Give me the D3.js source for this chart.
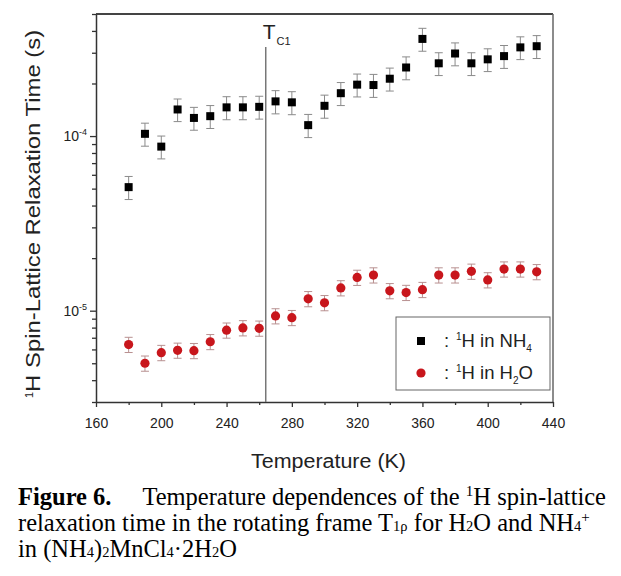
<!DOCTYPE html>
<html><head><meta charset="utf-8">
<script src="https://cdn.jsdelivr.net/npm/d3@7/dist/d3.min.js"></script>
<style>html,body{margin:0;padding:0;background:#fff;}svg{display:block;}</style>
</head><body>
<script>
// ---- data ----
const temps = [180,190,200,210,220,230,240,250,260,270,280,290,300,310,320,330,340,350,360,370,380,390,400,410,420,430];
const nh4 = [5.1e-5,1.03e-4,8.7e-5,1.42e-4,1.27e-4,1.30e-4,1.46e-4,1.46e-4,1.47e-4,1.58e-4,1.56e-4,1.155e-4,1.49e-4,1.76e-4,1.97e-4,1.96e-4,2.13e-4,2.47e-4,3.60e-4,2.61e-4,2.97e-4,2.61e-4,2.75e-4,2.87e-4,3.22e-4,3.27e-4];
const nh4Err = [0.77e-5,1.55e-5,1.3e-5,2.1e-5,1.9e-5,1.95e-5,2.2e-5,2.2e-5,2.2e-5,2.4e-5,2.35e-5,1.75e-5,2.25e-5,2.65e-5,2.95e-5,2.95e-5,3.2e-5,3.7e-5,5.4e-5,3.9e-5,4.45e-5,3.9e-5,4.1e-5,4.3e-5,4.8e-5,4.9e-5];
const h2o = [6.4e-6,5.0e-6,5.75e-6,5.93e-6,5.9e-6,6.64e-6,7.73e-6,7.97e-6,7.93e-6,9.33e-6,9.12e-6,1.17e-5,1.11e-5,1.35e-5,1.55e-5,1.60e-5,1.30e-5,1.27e-5,1.32e-5,1.60e-5,1.60e-5,1.68e-5,1.50e-5,1.73e-5,1.73e-5,1.67e-5];
const h2oErr = [0.64e-6,0.5e-6,0.58e-6,0.59e-6,0.59e-6,0.66e-6,0.77e-6,0.8e-6,0.79e-6,0.93e-6,0.91e-6,1.17e-6,1.11e-6,1.35e-6,1.55e-6,1.6e-6,1.3e-6,1.27e-6,1.32e-6,1.6e-6,1.6e-6,1.68e-6,1.5e-6,1.73e-6,1.73e-6,1.67e-6];
const xTicks = [160,200,240,280,320,360,400,440];
const xMinor = [180,220,260,300,340,380,420];
const yMajor = [1e-5,1e-4];
const yMajorExp = ["-5","-4"];
const tc1 = 264;

const W = 621, H = 576;
const svg = d3.select("body").append("svg").attr("width", W).attr("height", H);
const x = d3.scaleLinear().domain([160,440]).range([96,553]);
const y = d3.scaleLog().domain([3e-6,5e-4]).range([402,14]);
const sans = "'Liberation Sans', Arial, sans-serif";
const serif = "'Liberation Serif', 'Times New Roman', serif";

// minor y ticks
const yMinor = [];
[1e-6,1e-5,1e-4].forEach(d => { for (let k=2;k<=9;k++){ const v=k*d; if (v>=3e-6 && v<=5e-4) yMinor.push(v);} });

// frame
const g = svg.append("g");
g.append("line").attr("x1",96).attr("x2",553).attr("y1",14).attr("y2",14).attr("stroke","#444").attr("stroke-width",2);
g.append("line").attr("x1",553).attr("x2",553).attr("y1",14).attr("y2",402).attr("stroke","#666").attr("stroke-width",1.5);

// x axis
const xAxis = d3.axisBottom(x).tickValues(xTicks).tickSize(5).tickSizeOuter(0).tickFormat(d3.format("d"));
const gx = svg.append("g").attr("transform","translate(0,402)").call(xAxis);
gx.select(".domain").attr("stroke","#333").attr("stroke-width",1.5);
gx.selectAll(".tick line").attr("stroke","#333").attr("stroke-width",1.3);
gx.selectAll(".tick text").attr("font-family",sans).attr("font-size",14).attr("fill","#222").attr("dy",null).attr("y",26);
const xAxisMinor = d3.axisBottom(x).tickValues(xMinor).tickSize(3).tickSizeOuter(0).tickFormat("");
const gxm = svg.append("g").attr("transform","translate(0,402)").call(xAxisMinor);
gxm.select(".domain").remove();
gxm.selectAll(".tick line").attr("stroke","#333").attr("stroke-width",1.3);

// y axis
const yAxis = d3.axisLeft(y).tickValues(yMajor).tickSize(6).tickSizeOuter(0).tickFormat("");
const gy = svg.append("g").attr("transform","translate(96,0)").call(yAxis);
gy.select(".domain").attr("stroke","#333").attr("stroke-width",1.5);
gy.selectAll(".tick line").attr("stroke","#333").attr("stroke-width",1.3);
const yAxisMinor = d3.axisLeft(y).tickValues(yMinor).tickSize(4).tickSizeOuter(0).tickFormat("");
const gym = svg.append("g").attr("transform","translate(96,0)").call(yAxisMinor);
gym.select(".domain").remove();
gym.selectAll(".tick line").attr("stroke","#333").attr("stroke-width",1.3);
yMajor.forEach((v,i) => {
  const t = svg.append("text").attr("x",87).attr("y",y(v)+5).attr("text-anchor","end")
    .attr("font-family",sans).attr("font-size",14).attr("fill","#222");
  t.append("tspan").text("10");
  t.append("tspan").attr("font-size",9).attr("dy",-6).text(yMajorExp[i]);
});

// Tc1 line
svg.append("line").attr("x1",x(tc1)).attr("x2",x(tc1)).attr("y1",47).attr("y2",402).attr("stroke","#777").attr("stroke-width",1.5);
const tl = svg.append("text").attr("x",x(tc1)-3).attr("y",39).attr("font-family",sans).attr("font-size",21).attr("fill","#222");
tl.append("tspan").text("T");
tl.append("tspan").attr("font-size",11).attr("dy",6).attr("dx",1).text("C1");

// error bars
function errBars(vals, errs, color) {
  const eg = svg.append("g").attr("stroke",color).attr("stroke-width",1).attr("fill","none");
  temps.forEach((t,i) => {
    const cx = x(t), y1 = y(vals[i]+errs[i]), y2 = y(vals[i]-errs[i]);
    eg.append("line").attr("x1",cx).attr("x2",cx).attr("y1",y1).attr("y2",y2);
    eg.append("line").attr("x1",cx-4).attr("x2",cx+4).attr("y1",y1).attr("y2",y1);
    eg.append("line").attr("x1",cx-4).attr("x2",cx+4).attr("y1",y2).attr("y2",y2);
  });
}
errBars(nh4, nh4Err, "#8a8a8a");
errBars(h2o, h2oErr, "#b89090");

// points
svg.append("g").selectAll("rect").data(temps).join("rect")
  .attr("x",(d)=>x(d)-4).attr("y",(d,i)=>y(nh4[i])-4).attr("width",8).attr("height",8).attr("fill","#000");
svg.append("g").selectAll("circle").data(temps).join("circle")
  .attr("cx",(d)=>x(d)).attr("cy",(d,i)=>y(h2o[i])).attr("r",4.6).attr("fill","#c8161c");

// legend
svg.append("rect").attr("x",396).attr("y",317).attr("width",154).attr("height",73).attr("fill","#fff").attr("stroke","#666").attr("stroke-width",1);
svg.append("rect").attr("x",417).attr("y",337).attr("width",8).attr("height",8).attr("fill","#000");
svg.append("circle").attr("cx",421).attr("cy",373).attr("r",4.6).attr("fill","#c8161c");
const l1 = svg.append("text").attr("x",444).attr("y",347).attr("font-family",sans).attr("font-size",18.5).attr("fill","#222");
l1.append("tspan").text(":");
l1.append("tspan").attr("x",456).attr("font-size",10).attr("dy",-7).text("1");
l1.append("tspan").attr("dy",7).text("H in NH");
l1.append("tspan").attr("font-size",10).attr("dy",5).text("4");
const l2 = svg.append("text").attr("x",444).attr("y",379).attr("font-family",sans).attr("font-size",18.5).attr("fill","#222");
l2.append("tspan").text(":");
l2.append("tspan").attr("x",456).attr("font-size",10).attr("dy",-7).text("1");
l2.append("tspan").attr("dy",7).text("H in H");
l2.append("tspan").attr("font-size",10).attr("dy",5).text("2");
l2.append("tspan").attr("dy",-5).text("O");

// axis titles
svg.append("text").attr("x",251).attr("y",468).attr("font-family",sans).attr("font-size",20)
  .attr("textLength",155).attr("lengthAdjust","spacingAndGlyphs").attr("fill","#222").text("Temperature (K)");
const yt = svg.append("text").attr("transform","translate(39.5,398) rotate(-90)")
  .attr("font-family",sans).attr("font-size",19.5).attr("fill","#222");
yt.append("tspan").attr("font-size",11).attr("dy",-7).text("1");
yt.append("tspan").attr("dy",7).attr("textLength",362).attr("lengthAdjust","spacingAndGlyphs").text("H Spin-Lattice Relaxation Time (s)");

// caption
const capFs = 24.5, subFs = 14.5, supFs = 15;
svg.append("text").attr("x",18).attr("y",505).attr("font-family",serif).attr("font-size",capFs).attr("font-weight","bold").attr("fill","#000").text("Figure 6.");
const cap1 = svg.append("text").attr("x",606).attr("y",505).attr("text-anchor","end").attr("font-family",serif).attr("font-size",capFs).attr("fill","#000");
cap1.append("tspan").text("Temperature dependences of the ");
cap1.append("tspan").attr("font-size",supFs).attr("dy",-9).text("1");
cap1.append("tspan").attr("dy",9).text("H spin-lattice");
const cap2 = svg.append("text").attr("x",18).attr("y",531).attr("font-family",serif).attr("font-size",capFs).attr("fill","#000");
cap2.append("tspan").text("relaxation time in the rotating frame T");
cap2.append("tspan").attr("font-size",subFs).text("1\u03C1");
cap2.append("tspan").text(" for H");
cap2.append("tspan").attr("font-size",subFs).text("2");
cap2.append("tspan").text("O and NH");
cap2.append("tspan").attr("font-size",subFs).text("4");
cap2.append("tspan").attr("font-size",supFs).attr("dy",-9).text("+");
const cap3 = svg.append("text").attr("x",18).attr("y",557).attr("font-family",serif).attr("font-size",capFs).attr("fill","#000");
cap3.append("tspan").text("in (NH");
cap3.append("tspan").attr("font-size",subFs).text("4");
cap3.append("tspan").text(")");
cap3.append("tspan").attr("font-size",subFs).text("2");
cap3.append("tspan").text("MnCl");
cap3.append("tspan").attr("font-size",subFs).text("4");
cap3.append("tspan").text("\u00B72H");
cap3.append("tspan").attr("font-size",subFs).text("2");
cap3.append("tspan").text("O");
</script>
</body></html>
